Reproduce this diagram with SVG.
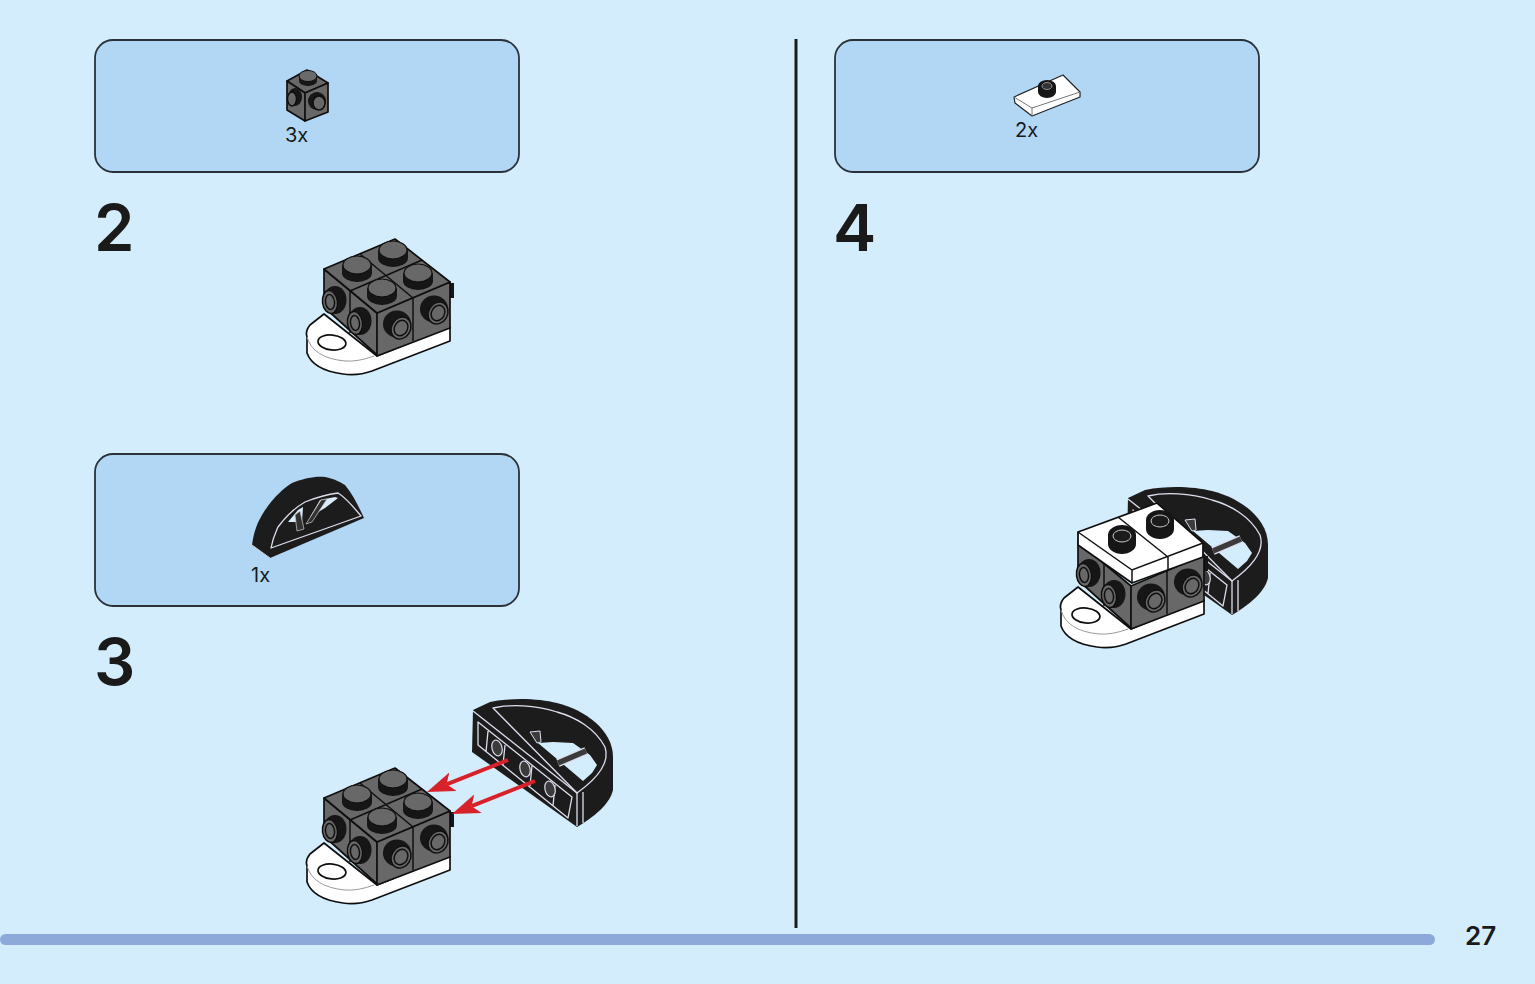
<svg xmlns="http://www.w3.org/2000/svg" xmlns:xlink="http://www.w3.org/1999/xlink" width="1535" height="984" viewBox="0 0 1535 984">
<style>
.box{fill:#b2d7f4;stroke:#2a3138;stroke-width:1.8}
.qty{font-family:"Inter","Liberation Sans",sans-serif;font-size:20px;fill:#1a1a1a}
.num{font-family:"Inter","Liberation Sans",sans-serif;font-size:65px;font-weight:600;fill:#1a1a1a}
.pg{font-family:"Inter","Liberation Sans",sans-serif;font-size:26px;font-weight:600;fill:#1a1a1a}
.dk{fill:#676767;stroke:#111;stroke-width:1.7;stroke-linejoin:round}
.blk{fill:#141414}
.ln{fill:none;stroke:#111;stroke-width:1.5}
.wl{fill:none;stroke:#dde;stroke-width:1.3;stroke-linejoin:round}
.ring{fill:#676767;stroke:#111;stroke-width:1.5}
.arrow{fill:none;stroke:#d8222c;stroke-width:4;marker-end:url(#head)}
.art{filter:url(#soft)}
</style>
<defs>
<filter id="soft" filterUnits="userSpaceOnUse" x="0" y="0" width="1535" height="984"><feGaussianBlur stdDeviation="0.45"/></filter>
<marker id="head" markerUnits="userSpaceOnUse" viewBox="0 0 28 20" refX="7" refY="10" markerWidth="28" markerHeight="20" orient="auto"><path d="M0,0L28,10L0,20L7,10Z" fill="#d8222c"/></marker>
<g id="sstudL"><ellipse cx="5" cy="-2" rx="11.5" ry="14" class="blk"/><ellipse cx="0" cy="0" rx="7.5" ry="11.5" class="ring" transform="rotate(-8)"/><ellipse cx="0" cy="0" rx="4.5" ry="7.5" class="ring" transform="rotate(-8)"/></g>
<g id="sstudR"><ellipse cx="-4" cy="-4" rx="14" ry="13.5" class="blk"/><ellipse cx="0" cy="0" rx="9.5" ry="11.5" class="ring" transform="rotate(30)"/><ellipse cx="0" cy="0" rx="6.5" ry="8" class="ring" transform="rotate(30)"/></g>
<g id="tstud"><path class="blk" d="M-15,0V8A15,9 0 0 0 15,8V0Z"/><ellipse rx="14" ry="9" fill="#676767" stroke="#111" stroke-width="1.2"/></g>
<g id="base">
<path d="M324,314L310,325Q305,331 307,337V353Q313,370 343,374Q358,376 372,371L450,341V327L377,356Z" fill="#fff" stroke="#111" stroke-width="1.7" stroke-linejoin="round"/>
<path d="M307,337Q313,358 345,361Q358,362 374,356" fill="none" stroke="#999" stroke-width="1"/>
<ellipse cx="332" cy="342.5" rx="14" ry="7.5" fill="#fff" stroke="#111" stroke-width="1.7" transform="rotate(6 332 342)"/>
<rect x="448" y="283" width="6" height="15" class="blk"/>
<path class="dk" d="M324,269L377,313V355L324,307Z"/>
<path class="dk" d="M377,313L450,282V328L377,356Z"/>
<path class="ln" d="M350,291V333M413,298V341"/>
<use xlink:href="#sstudL" href="#sstudL" x="330" y="302"/>
<use xlink:href="#sstudL" href="#sstudL" x="355" y="323"/>
<use xlink:href="#sstudR" href="#sstudR" x="401" y="328"/>
<use xlink:href="#sstudR" href="#sstudR" x="438" y="313"/>
</g>
<g id="model">
<use xlink:href="#base" href="#base"/>
<path class="dk" d="M324,269L395,239L450,282L377,313Z"/>
<path class="ln" d="M360,254L413,298M422,260L350,291"/>
<use xlink:href="#tstud" href="#tstud" x="357" y="265"/>
<use xlink:href="#tstud" href="#tstud" x="393" y="250"/>
<use xlink:href="#tstud" href="#tstud" x="418" y="273"/>
<use xlink:href="#tstud" href="#tstud" x="382" y="288"/>
</g>
<g id="arch">
<path fill="#1f1f1f" d="M473,710L490,702C515,697 540,699 557,703C585,710 613,730 613,757V790C610,802 600,813 577,827L472,752Z"/>
<path class="wl" d="M493,708C510,704 535,705 557,712C575,717 595,728 605,747C610,762 598,778 577,793Z"/>
<path class="wl" d="M473,711L577,793V826M583,792V823M478,722L572,797L568,818L478,745ZM488,731L486,752M505,745L503,765M532,765L530,786M555,785L553,806"/>
<path d="M538,743L553,742L573,743L590,755L597,765L592,773L583,781L570,770Z" fill="#d4edfc"/>
<path d="M530,732L540,731L541,742L537,743Z" fill="#3a3a3a" stroke="#dde"/>
<path d="M558,763L586,751" stroke="#dde" stroke-width="8" fill="none"/>
<path d="M558,763L586,751" stroke="#3a3a3a" stroke-width="5.5" fill="none"/>
<g fill="#3a3a3a" stroke="#dde" stroke-width="1.2"><ellipse cx="497" cy="748" rx="5" ry="8" transform="rotate(-15 497 748)"/><ellipse cx="525" cy="769" rx="5" ry="8" transform="rotate(-15 525 769)"/><ellipse cx="550" cy="789" rx="5" ry="8" transform="rotate(-15 550 789)"/></g>
</g>
</defs>
<rect width="1535" height="984" fill="#d4edfc"/>
<rect x="0" y="934" width="1435" height="11" rx="5.5" fill="#8ca9da"/>
<rect x="794.5" y="39" width="3" height="889" fill="#1a1a1a"/>
<text x="1465" y="945" class="pg">27</text>

<g id="callout-1">
<rect class="box" x="95" y="40" width="424" height="132" rx="18"/>
<g class="art">
<path class="dk" d="M287,81L307,70L328,83L305,93Z"/>
<path class="dk" d="M287,81L305,93V121L287,110Z"/>
<path class="dk" d="M305,93L328,83V112L305,121Z"/>
<path class="blk" d="M299,76V81A9,5 0 0 0 317,81V76Z"/><ellipse cx="308" cy="76" rx="9" ry="5.5" fill="#6b6b6b" stroke="#111"/>
<ellipse cx="295" cy="97" rx="7" ry="9" class="blk"/><ellipse cx="292" cy="99" rx="4.5" ry="7" class="ring"/>
<ellipse cx="317" cy="101" rx="9" ry="9" class="blk"/><ellipse cx="319" cy="103" rx="6" ry="7" class="ring"/>
</g>
<text class="qty" x="285" y="142">3x</text>
</g>
<g id="callout-2">
<rect class="box" x="835" y="40" width="424" height="132" rx="18"/>
<g class="art">
<path d="M1014,97L1063,75L1080,92V97L1032,116L1015,103Z" fill="#fff" stroke="#222" stroke-width="1.2" stroke-linejoin="round"/>
<path d="M1014,97L1032,108L1080,92M1032,108V116" fill="none" stroke="#777"/>
<path class="blk" d="M1038,86V92A9,6 0 0 0 1056,92V86Z"/><ellipse cx="1047" cy="86" rx="9" ry="6" class="blk"/><ellipse cx="1047" cy="86" rx="5" ry="3.5" fill="#333" stroke="#aaa" stroke-width=".8"/>
</g>
<text class="qty" x="1015" y="137">2x</text>
</g>
<g id="callout-3">
<rect class="box" x="95" y="454" width="424" height="152" rx="18"/>
<g class="art">
<path fill="#1f1f1f" d="M252,545C254,530 258,522 262,515C272,498 285,487 292,483C305,478 315,476 325,477C335,479 340,482 345,485C353,495 358,505 364,518L270,558Z"/>
<path class="wl" d="M271,548C273,537 276,532 278,527C287,515 296,507 305,502C320,496 330,494 338,493C345,497 352,505 361,516Z" stroke-width="1"/>
<path d="M288,522L298,510L303,507L302,522ZM310,517L320,500L335,497L338,498L325,508Z" fill="#d8ecfa"/>
<path d="M300,511L304,529L297,531L295,515ZM321,500L327,499L312,522L306,524Z" fill="#333" stroke="#ccc" stroke-width=".7"/>
<path d="M252,545L270,558" stroke="#ccc"/>
</g>
<text class="qty" x="251" y="582">1x</text>
</g>
<text id="step-2" class="num" x="94" y="251">2</text>
<text id="step-3" class="num" x="94" y="685">3</text>
<text id="step-4" class="num" x="833" y="251">4</text>
<g id="model-step2" class="art"><use xlink:href="#model" href="#model"/></g>
<g id="model-step3" class="art">
<use xlink:href="#model" href="#model" y="529"/>
<use xlink:href="#arch" href="#arch"/>
</g>
<g id="connectors" class="art">
<path class="arrow" d="M508,760L446.5,784.3"/>
<path class="arrow" d="M535,781L471.5,806.2"/>
</g>
<g id="model-step4" class="art">
<use xlink:href="#arch" href="#arch" x="655" y="-212"/>
<use xlink:href="#base" href="#base" x="754" y="273"/>
<path d="M1078,532L1157,503L1203,543V557L1132,583L1078,545Z" fill="#fff" stroke="#111" stroke-width="1.8" stroke-linejoin="round"/>
<path class="ln" d="M1078,532L1132,570L1203,543M1132,570V583M1118,517L1168,557V570"/>
<g id="tile-stud-1"><path class="blk" d="M1108,535V544A14,10 0 0 0 1136,544V535Z"/><ellipse cx="1122" cy="535" rx="14" ry="10" class="blk"/><ellipse cx="1122" cy="536" rx="9" ry="6" fill="#1a1a1a" stroke="#ccc"/></g>
<g id="tile-stud-2"><path class="blk" d="M1146,520V529A14,10 0 0 0 1174,529V520Z"/><ellipse cx="1160" cy="520" rx="14" ry="10" class="blk"/><ellipse cx="1160" cy="521" rx="9" ry="6" fill="#1a1a1a" stroke="#ccc"/></g>
</g>
</svg>
